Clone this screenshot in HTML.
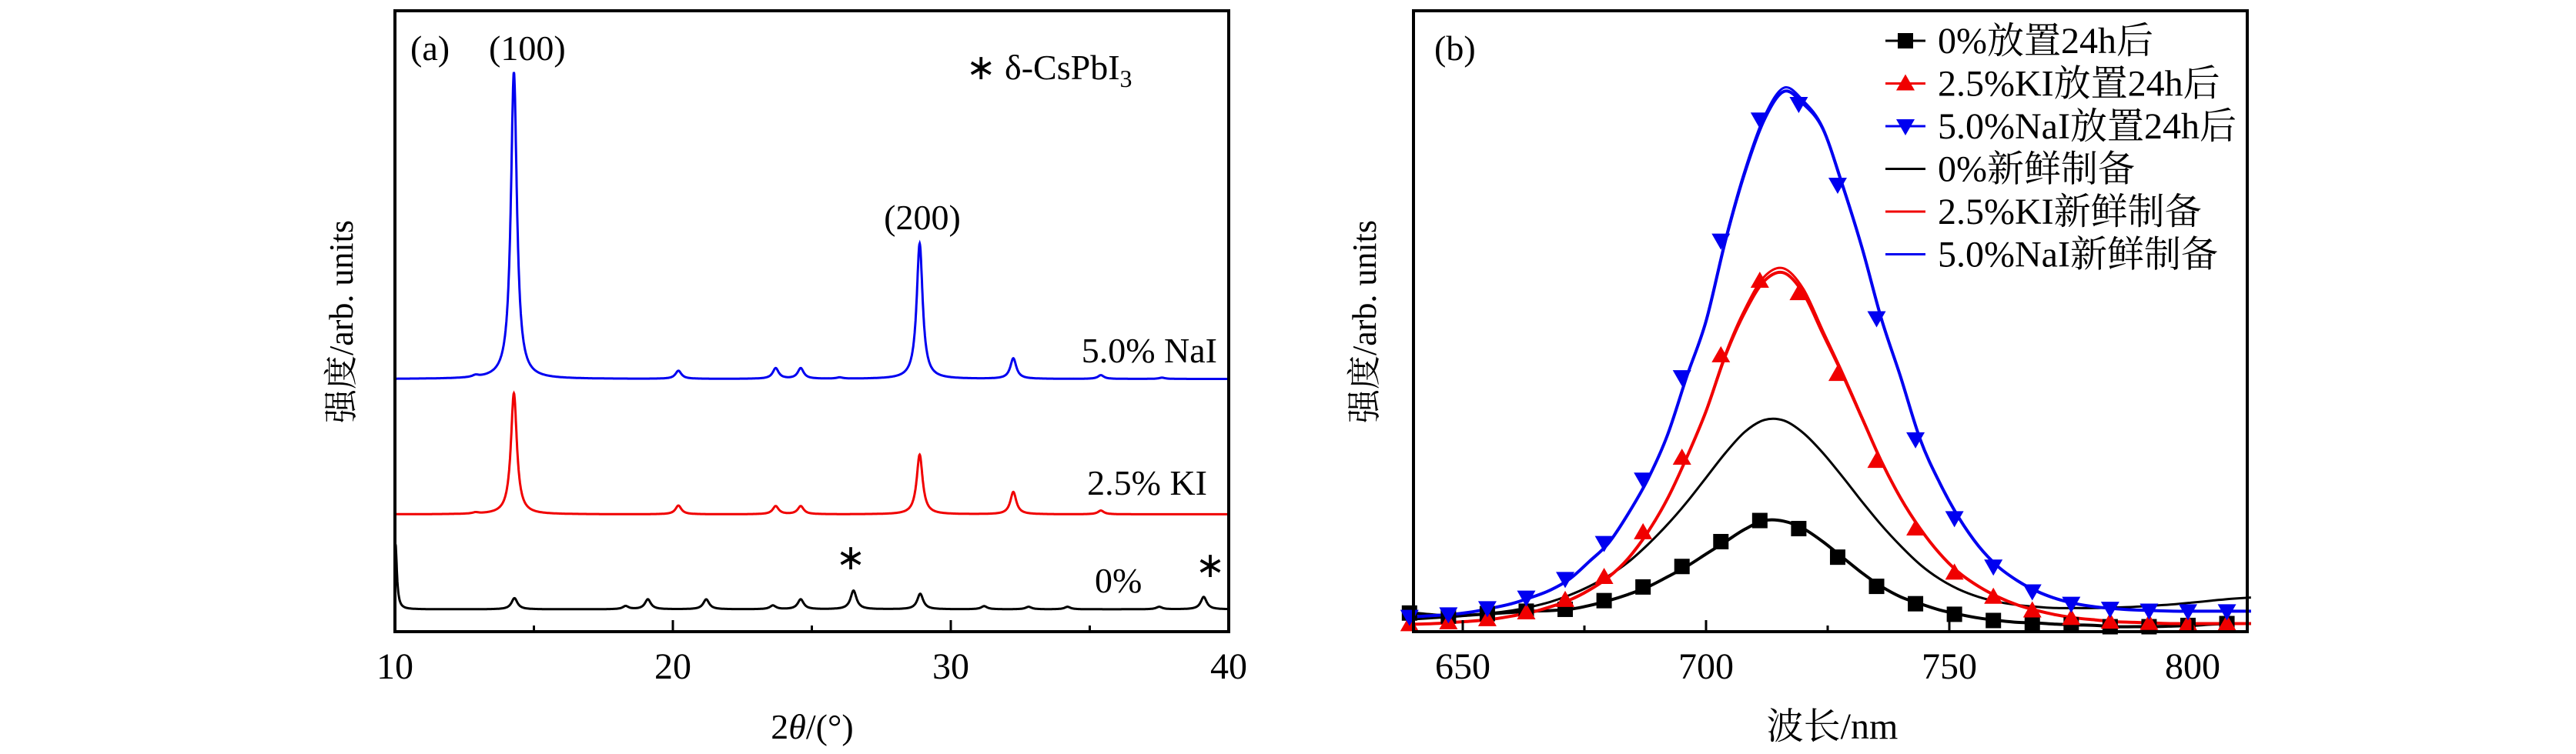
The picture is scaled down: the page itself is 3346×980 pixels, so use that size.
<!DOCTYPE html>
<html><head><meta charset="utf-8">
<style>
html,body{margin:0;padding:0;background:#fff;}
svg{display:block;}
text{font-family:"Liberation Serif","Noto Serif CJK SC","Noto Sans CJK SC",serif;fill:#000;}
</style></head>
<body>
<svg id="chart" width="3346" height="980" viewBox="0 0 3346 980" xmlns="http://www.w3.org/2000/svg">
<g id="pa"></g>
<g id="pb"></g>
</svg>
<script>
// ---------- Panel (a) XRD data ----------
const xrdTicks = [10, 20, 30, 40];
const xrdMinorTicks = [15, 25, 35];
const naiBaseline = 40.7;
const naiPeakPos = [12.9, 14.28, 20.2, 23.7, 24.6, 26.0, 28.88, 32.25, 35.4, 37.6];
const naiPeakHeight = [0.3, 49.4, 1.3, 1.7, 1.7, 0.2, 21.8, 3.3, 0.6, 0.2];
const kiBaseline = 18.9;
const kiPeakPos = [12.9, 14.28, 20.2, 23.7, 24.6, 28.88, 32.25, 35.4];
const kiPeakHeight = [0.2, 19.5, 1.4, 1.3, 1.3, 9.6, 3.6, 0.6];
const pureBaseline = 3.6;
const purePeakPos = [10.02, 14.3, 18.3, 19.1, 21.2, 23.6, 24.6, 26.5, 28.9, 31.2, 32.8, 34.2, 37.5, 39.1];
const purePeakHeight = [10.5, 1.8, 0.5, 1.6, 1.6, 0.6, 1.6, 3.0, 2.5, 0.5, 0.4, 0.4, 0.4, 2.0];

// ---------- Panel (b) PL data ----------
const wavelengths = [640,644,648,652,656,660,664,668,672,676,680,684,688,692,696,700,704,708,712,716,720,724,728,732,736,740,744,748,752,756,760,764,768,772,776,780,784,788,792,796,800,804,808,812];
const pureAged = [3.0,2.7,2.5,2.7,2.9,3.1,3.3,3.4,3.6,4.2,5.0,6.0,7.2,8.8,10.5,12.5,14.5,16.5,17.9,17.8,16.6,14.5,12.0,9.5,7.3,5.6,4.5,3.5,2.8,2.2,1.8,1.5,1.4,1.2,1.1,1.0,0.8,0.8,0.8,0.9,1.0,1.2,1.3,1.3];
const kiAged = [1.2,1.3,1.5,1.7,2.0,2.5,3.1,4.0,5.1,6.7,8.8,11.8,16.0,21.3,28.0,35.5,44.5,51.5,56.5,57.8,54.5,48.0,41.5,34.5,27.5,21.5,16.6,12.6,9.5,7.3,5.6,4.3,3.4,2.7,2.2,1.9,1.6,1.5,1.4,1.3,1.3,1.3,1.3,1.3];
const naiAged = [2.4,2.6,2.8,3.2,3.8,4.5,5.5,6.7,8.5,11.3,14.3,19.0,24.5,31.5,41.0,50.0,63.0,74.0,82.5,87.0,85.0,81.0,72.0,62.0,50.5,41.0,31.0,24.0,18.3,13.8,10.5,8.2,6.5,5.3,4.5,4.0,3.7,3.5,3.4,3.3,3.3,3.3,3.3,3.3];
const pureFresh = [2.0,2.2,2.4,2.7,3.0,3.4,4.0,4.8,5.9,7.3,9.0,11.2,14.0,17.2,20.8,24.8,28.8,32.2,34.1,34.0,32.0,28.8,25.0,21.0,17.2,13.8,10.8,8.5,6.8,5.6,4.8,4.3,4.0,3.8,3.8,3.8,3.9,4.0,4.2,4.4,4.7,5.0,5.3,5.5];
const kiFresh = [1.2,1.3,1.5,1.7,2.0,2.5,3.1,4.0,5.1,6.7,8.8,11.8,16.0,21.3,28.0,35.6,44.8,52.0,57.2,58.5,55.2,48.5,41.8,34.7,27.6,21.6,16.6,12.6,9.5,7.3,5.6,4.3,3.4,2.7,2.2,1.9,1.6,1.5,1.4,1.3,1.3,1.3,1.3,1.3];
const naiFresh = [2.4,2.6,2.8,3.2,3.8,4.5,5.5,6.7,8.5,11.3,14.3,19.0,24.5,31.5,41.0,50.2,63.3,74.4,83.0,87.6,85.5,81.2,72.2,62.1,50.6,41.0,31.0,24.0,18.3,13.8,10.5,8.2,6.5,5.3,4.5,4.0,3.7,3.5,3.4,3.3,3.3,3.3,3.3,3.3];
const plTicks = [650, 700, 750, 800];
const plMinorTicks = [675, 725, 775];
const legendLabels = ["0%放置24h后","2.5%KI放置24h后","5.0%NaI放置24h后","0%新鲜制备","2.5%KI新鲜制备","5.0%NaI新鲜制备"];

const NS = "http://www.w3.org/2000/svg";
function mk(parent, tag, attrs, txt){
  const e = document.createElementNS(NS, tag);
  for (const k in attrs) e.setAttribute(k, attrs[k]);
  if (txt !== undefined) e.textContent = txt;
  parent.appendChild(e);
  return e;
}
const BLUE = "#0000f0", RED = "#f00000", BLACK = "#000";

// ===== Panel (a) =====
const pa = document.getElementById("pa");
const A = {l:513, r:1596, t:14, b:821};
const ax = v => A.l + (v - 10) / 30 * (A.r - A.l);
const ay = v => A.b - v * (A.b - A.t) / 100;
function xrdCurve(base, pos, h, x){
  let s = base;
  for (let i = 0; i < pos.length; i++){
    const w = (i === 0 && pos[i] < 10.5) ? 0.06 : 0.13;
    const d = (x - pos[i]) / w;
    s += h[i] / (1 + d*d);
  }
  return s;
}
function xrdPath(base, pos, h){
  let d = "";
  for (let x = 10; x <= 40.0001; x += 0.01){
    d += (d ? "L" : "M") + ax(x).toFixed(1) + "," + ay(xrdCurve(base, pos, h, x)).toFixed(1);
  }
  return d;
}
let el;
el = mk(pa, "path", {d: xrdPath(pureBaseline, purePeakPos, purePeakHeight), fill:"none", stroke:BLACK, "stroke-width":3});


el = mk(pa, "path", {d: xrdPath(kiBaseline, kiPeakPos, kiPeakHeight), fill:"none", stroke:RED, "stroke-width":3});


el = mk(pa, "path", {d: xrdPath(naiBaseline, naiPeakPos, naiPeakHeight), fill:"none", stroke:BLUE, "stroke-width":3});



el = mk(pa, "rect", {x:A.l, y:A.t, width:A.r-A.l, height:A.b-A.t, fill:"none", stroke:"#000", "stroke-width":4});


xrdTicks.forEach(t => {
  el = mk(pa, "line", {x1:ax(t), x2:ax(t), y1:A.b, y2:A.b-15, stroke:"#000", "stroke-width":3});
  
  
  el = mk(pa, "text", {x:ax(t), y:882, "font-size":48, "text-anchor":"middle"}, String(t));
  
  
});
xrdMinorTicks.forEach(t => {
  el = mk(pa, "line", {x1:ax(t), x2:ax(t), y1:A.b, y2:A.b-8, stroke:"#000", "stroke-width":3});
  
  
});

function txt(parent, x, y, size, s, name, anchor, extra){
  const e = mk(parent, "text", Object.assign({x:x, y:y, "font-size":size, "text-anchor":anchor||"start"}, extra||{}), s);
  
  
  return e;
}
txt(pa, 533, 78, 46, "(a)", "panel-a-label");
txt(pa, 635, 78, 46, "(100)", "peak-label-100");
txt(pa, 1198, 298, 46, "(200)", "peak-label-200", "middle");
const st = txt(pa, 1255, 103, 46, "∗ δ-CsPbI", "legend-delta-cspbi3");
mk(st, "tspan", {"font-size":32, dy:10}, "3");
txt(pa, 1581, 471, 46, "5.0% NaI", "label-5pct-nai", "end");
txt(pa, 1568, 643, 46, "2.5% KI", "label-2-5pct-ki", "end");
txt(pa, 1422, 770, 46, "0%", "label-0pct");
txt(pa, 1105, 740, 46, "∗", "star-marker-26", "middle");
txt(pa, 1572, 750, 46, "∗", "star-marker-39", "middle");
txt(pa, 0, 0, 44, "强度/arb. units", "y-axis-title-a", "middle", {transform:"translate(458,418) rotate(-90)"});
const xt = txt(pa, 1055, 960, 46, "2", "x-axis-title-a", "middle");
mk(xt, "tspan", {"font-style":"italic"}, "θ");
mk(xt, "tspan", {}, "/(°)");

// ===== Panel (b) =====
const pb = document.getElementById("pb");
const B = {l:1836, r:2919, t:14, b:821};
const bx = v => 1900 + (v - 650) * 6.32;
const by = v => B.b - v * (B.b - B.t) / 100;
const cp = mk(pb, "clipPath", {id:"clipb"});
mk(cp, "rect", {x:B.l - 20, y:B.t, width:B.r - B.l + 28, height:B.b - B.t + 10});
function smoothPath(xs, ys){
  const P = xs.map((x,i)=>[bx(x), by(ys[i])]);
  let d = "M" + P[0][0].toFixed(1) + "," + P[0][1].toFixed(1);
  for (let i = 0; i < P.length-1; i++){
    const p0 = P[Math.max(0,i-1)], p1 = P[i], p2 = P[i+1], p3 = P[Math.min(P.length-1,i+2)];
    const c1 = [p1[0]+(p2[0]-p0[0])/6, p1[1]+(p2[1]-p0[1])/6];
    const c2 = [p2[0]-(p3[0]-p1[0])/6, p2[1]-(p3[1]-p1[1])/6];
    d += "C"+c1[0].toFixed(1)+","+c1[1].toFixed(1)+" "+c2[0].toFixed(1)+","+c2[1].toFixed(1)+" "+p2[0].toFixed(1)+","+p2[1].toFixed(1);
  }
  return d;
}
const gl = mk(pb, "g", {"clip-path":"url(#clipb)"});


const series = [
  {ys:pureFresh, c:BLACK, w:3, name:"pl-line-0pct-fresh"},
  {ys:kiFresh, c:RED, w:3, name:"pl-line-2-5pct-ki-fresh"},
  {ys:naiFresh, c:BLUE, w:3, name:"pl-line-5pct-nai-fresh"},
  {ys:pureAged, c:BLACK, w:4, name:"pl-line-0pct-aged", m:"sq"},
  {ys:kiAged, c:RED, w:4, name:"pl-line-2-5pct-ki-aged", m:"up"},
  {ys:naiAged, c:BLUE, w:4, name:"pl-line-5pct-nai-aged", m:"down"}
];
function marker(parent, type, x, y, c, s){
  let e;
  if (type === "sq") e = mk(parent, "rect", {x:x-s/2, y:y-s/2, width:s, height:s, fill:c});
  else if (type === "up") e = mk(parent, "polygon", {points:`${x},${y-s*0.6} ${x-s*0.6},${y+s*0.45} ${x+s*0.6},${y+s*0.45}`, fill:c});
  else e = mk(parent, "polygon", {points:`${x},${y+s*0.6} ${x-s*0.6},${y-s*0.45} ${x+s*0.6},${y-s*0.45}`, fill:c});
  return e;
}
series.forEach(s => {
  el = mk(gl, "path", {d:smoothPath(wavelengths, s.ys), fill:"none", stroke:s.c, "stroke-width":s.w});
  
  
});
series.forEach(s => {
  if (!s.m) return;
  for (let i = 0; i < wavelengths.length - 1; i += 2){
    el = marker(pb, s.m, bx(wavelengths[i]) - 6, by(s.ys[i]), s.c, 20);
    
    
  }
});
el = mk(pb, "rect", {x:B.l, y:B.t, width:B.r-B.l, height:B.b-B.t, fill:"none", stroke:"#000", "stroke-width":4});


plTicks.forEach(t => {
  el = mk(pb, "line", {x1:bx(t), x2:bx(t), y1:B.b, y2:B.b-15, stroke:"#000", "stroke-width":3});
  
  
  el = mk(pb, "text", {x:bx(t), y:882, "font-size":48, "text-anchor":"middle"}, String(t));
  
  
});
plMinorTicks.forEach(t => {
  el = mk(pb, "line", {x1:bx(t), x2:bx(t), y1:B.b, y2:B.b-8, stroke:"#000", "stroke-width":3});
  
  
});
txt(pb, 1863, 78, 46, "(b)", "panel-b-label");
txt(pb, 0, 0, 44, "强度/arb. units", "y-axis-title-b", "middle", {transform:"translate(1787,418) rotate(-90)"});
txt(pb, 2380, 960, 48, "波长/nm", "x-axis-title-b", "middle");
// legend
const lg = mk(pb, "g", {});


const legendColors = [BLACK, RED, BLUE, BLACK, RED, BLUE];
const legendMarkers = ["sq","up","down",null,null,null];
legendLabels.forEach((lab, i) => {
  const y = 53 + i * 55.5;
  const g = mk(lg, "g", {});
  
  
  mk(g, "line", {x1:2449, x2:2501, y1:y, y2:y, stroke:legendColors[i], "stroke-width":3});
  if (legendMarkers[i]) marker(g, legendMarkers[i], 2475, y, legendColors[i], 20);
  mk(g, "text", {x:2517, y:y+16, "font-size":48}, lab);
});
</script>
</body></html>
